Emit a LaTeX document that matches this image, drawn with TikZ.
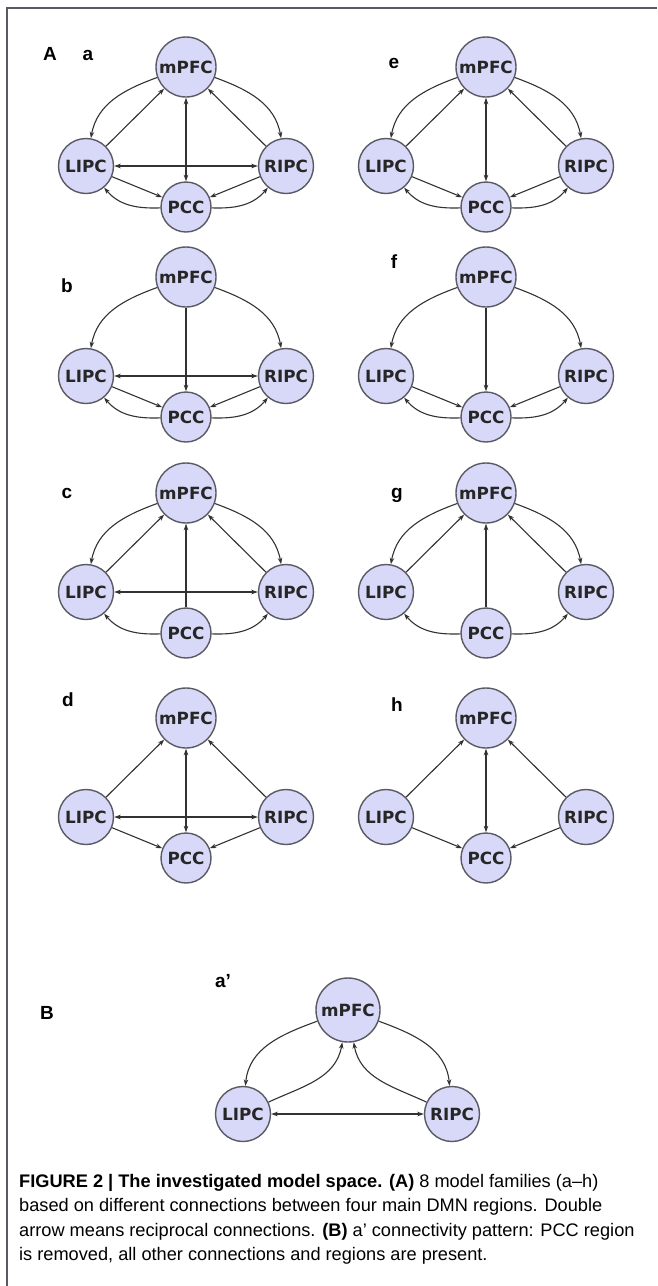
\documentclass[tikz,border=0pt]{standalone}
\usepackage{fontspec}
\setmainfont{Liberation Sans}
\newfontfamily\regionfont{DejaVu Sans}
\usetikzlibrary{arrows.meta}

\definecolor{regionfill}{RGB}{216,216,248}
\definecolor{regionline}{RGB}{90,90,100}
\definecolor{linkgray}{RGB}{50,50,50}

\tikzset{
  region/.style={circle, draw=regionline, fill=regionfill, line width=1.4pt, inner sep=0pt,
    text=black!85, font=\regionfont\bfseries\fontsize{16.8}{16.8}\selectfont},
  link/.style={draw=linkgray, line width=1.1pt, -{Stealth[length=6.5pt,width=4.5pt]}},
  twoway/.style={link, {Stealth[length=6.5pt,width=4.5pt]}-{Stealth[length=6.5pt,width=4.5pt]}},
  tag/.style={anchor=base, font=\bfseries\fontsize{19}{19}\selectfont},
  capline/.style={anchor=base west, inner sep=0pt, font=\fontsize{18.2}{18.2}\selectfont}
}

\begin{document}
\begin{tikzpicture}[x=1pt, y=1pt]
  \useasboundingbox (0,0) rectangle (657,-1286);
  \draw[regionline, line width=1.3pt] (7,-1286) -- (7,-8) -- (657,-8);

  % panels a-h
  \foreach \p/\dx/\dy in {a/0/0, b/0/210, c/0/426, d/0/651, e/300/0, f/300/210, g/300/426, h/300/651} {
    \node[region, minimum size=60pt] (\p-mpfc) at (186+\dx, -67-\dy) {mPFC};
    \node[region, minimum size=55pt] (\p-lipc) at (86+\dx, -166-\dy) {LIPC};
    \node[region, minimum size=55pt] (\p-ripc) at (286+\dx, -166-\dy) {RIPC};
    \node[region, minimum size=50pt] (\p-pcc) at (186+\dx, -207-\dy) {PCC};
  }

  % outer arcs
  \foreach \p in {a,b,c,e,f,g} {
    \draw[link] (\p-mpfc) to[out=200, in=80] (\p-lipc);
    \draw[link] (\p-mpfc) to[out=-20, in=100] (\p-ripc);
    \draw[link] (\p-pcc) to[out=182, in=-50] (\p-lipc);
    \draw[link] (\p-pcc) to[out=-2, in=230] (\p-ripc);
  }

  % straight links
  \foreach \p in {a,c,d,e,g,h} {
    \draw[link] (\p-lipc) -- (\p-mpfc);
    \draw[link] (\p-ripc) -- (\p-mpfc);
  }
  \foreach \p in {a,b,d,e,f,h} {
    \draw[link] (\p-lipc) -- (\p-pcc);
    \draw[link] (\p-ripc) -- (\p-pcc);
  }
  \foreach \p in {a,d,e,h} \draw[twoway] (\p-mpfc) -- (\p-pcc);
  \foreach \p in {b,f} \draw[link] (\p-mpfc) -- (\p-pcc);
  \foreach \p in {c,g} \draw[link] (\p-pcc) -- (\p-mpfc);
  \foreach \p in {a,b,c,d} \draw[twoway] (\p-lipc) -- (\p-ripc);

  % panel a'
  \node[region, minimum size=64pt] (a2-mpfc) at (348,-1010) {mPFC};
  \node[region, minimum size=55pt] (a2-lipc) at (243,-1114) {LIPC};
  \node[region, minimum size=55pt] (a2-ripc) at (452,-1114) {RIPC};
  \draw[link] (a2-mpfc) to[out=200, in=85] (a2-lipc);
  \draw[link] (a2-lipc) to[out=25, in=260] (a2-mpfc);
  \draw[link] (a2-mpfc) to[out=-20, in=95] (a2-ripc);
  \draw[link] (a2-ripc) to[out=155, in=280] (a2-mpfc);
  \draw[twoway] (a2-lipc) -- (a2-ripc);

  % letters
  \node[tag] (tagA) at (50,-60) {A};
  \node[tag] (taga) at (88,-60) {a};
  \node[tag] (tage) at (394,-68) {e};
  \node[tag] (tagb) at (67,-292) {b};
  \node[tag] (tagf) at (394,-268) {f};
  \node[tag] (tagc) at (67,-498) {c};
  \node[tag] (tagg) at (397,-498) {g};
  \node[tag] (tagd) at (68,-706) {d};
  \node[tag] (tagh) at (397,-711) {h};
  \node[tag] (tagB) at (47,-1019) {B};
  \node[tag] (taga2) at (223,-987) {a’};

  % caption
  \node[capline] (cap1) at (19,-1187) {\textbf{FIGURE 2 | The investigated model space. (A)} 8 model families (a–h)};
  \node[capline] (cap2) at (19,-1211) {based on different connections between four main DMN regions. Double};
  \node[capline] (cap3) at (19,-1236) {arrow means reciprocal connections. \textbf{(B)} a’ connectivity pattern: PCC region};
  \node[capline] (cap4) at (19,-1260) {is removed, all other connections and regions are present.};
\end{tikzpicture}
\end{document}
